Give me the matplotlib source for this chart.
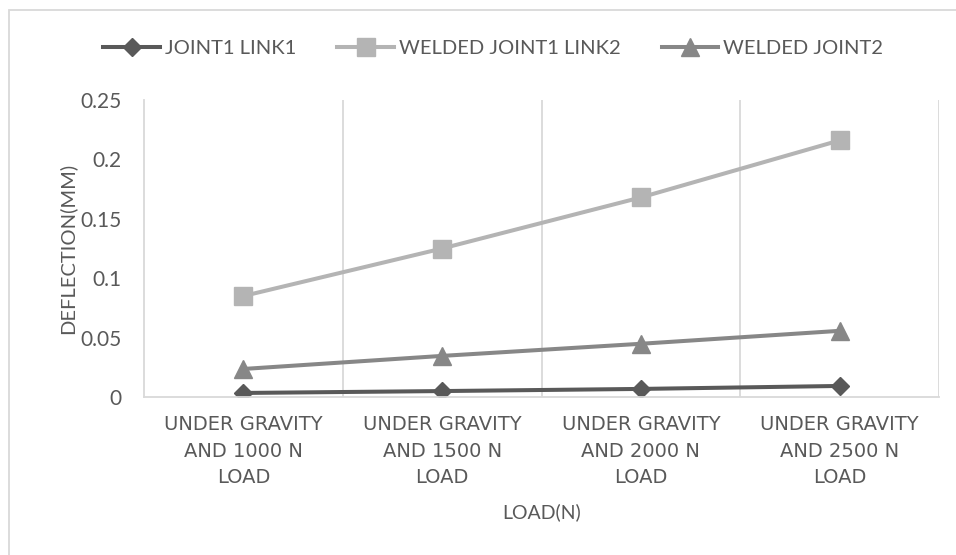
import matplotlib
matplotlib.use("Agg")
import matplotlib.pyplot as plt
from matplotlib.patches import Rectangle

categories = ["UNDER GRAVITY\nAND 1000 N\nLOAD", "UNDER GRAVITY\nAND 1500 N\nLOAD",
              "UNDER GRAVITY\nAND 2000 N\nLOAD", "UNDER GRAVITY\nAND 2500 N\nLOAD"]
joint1_link1 = [0.0034, 0.0050, 0.0068, 0.0093]
welded_joint1_link2 = [0.085, 0.125, 0.168, 0.216]
welded_joint2 = [0.0236, 0.0346, 0.0448, 0.0557]
yticks = [0, 0.05, 0.1, 0.15, 0.2, 0.25]
ytick_labels = ["0", "0.05", "0.1", "0.15", "0.2", "0.25"]

plt.rcParams['font.family'] = ['Lato', 'DejaVu Sans']
TXT = '#595959'
W, H = 956, 555
fig = plt.figure(figsize=(W/100, H/100), dpi=100)
ax = fig.add_axes([144/W, 1-397/H, (939-144)/W, (397-100)/H])

x = list(range(len(categories)))
ax.plot(x, joint1_link1, color='#595959', lw=2.9, marker='D', ms=8.8, label='JOINT1 LINK1')
ax.plot(x, welded_joint1_link2, color='#b4b4b4', lw=2.9, marker='s', ms=12.5, label='WELDED JOINT1 LINK2')
ax.plot(x, welded_joint2, color='#878787', lw=2.9, marker='^', ms=13, label='WELDED JOINT2')

ax.set_xlim(-0.5, len(categories)-0.5)
ax.set_ylim(0, 0.25)
ax.set_yticks(yticks)
ax.set_yticklabels(ytick_labels, fontsize=15, color=TXT)
ax.set_xticks(x)
ax.set_xticklabels(categories, fontsize=14, color=TXT, linespacing=1.5,
                   family=['DejaVu Sans'])
for i in range(1, len(categories)+1):
    ax.axvline(i-0.5, color='#d9d9d9', lw=1.3, zorder=0)
ax.tick_params(axis='y', length=0, pad=16)
ax.tick_params(axis='x', length=0, pad=13)
for s in ['top', 'right']:
    ax.spines[s].set_visible(False)
for s in ['left', 'bottom']:
    ax.spines[s].set_color('#d9d9d9')
    ax.spines[s].set_linewidth(1.3)

ax.set_ylabel('DEFLECTION(MM)', fontsize=14.5, color=TXT, labelpad=3)
ax.set_xlabel('LOAD(N)', fontsize=14, color=TXT, labelpad=12)

leg = fig.legend(loc='center', bbox_to_anchor=(0.516, 1-48/H), ncol=3, frameon=False,
                 fontsize=14.5, labelcolor=TXT, handlelength=2.8, columnspacing=2.05,
                 handletextpad=0.25)

fig.patches.append(Rectangle((9/W, -0.1), 1.2, 1.1 - 10/H, transform=fig.transFigure,
                             fill=False, edgecolor='#d9d9d9', lw=1.3))
fig.savefig('out.png', dpi=100)
